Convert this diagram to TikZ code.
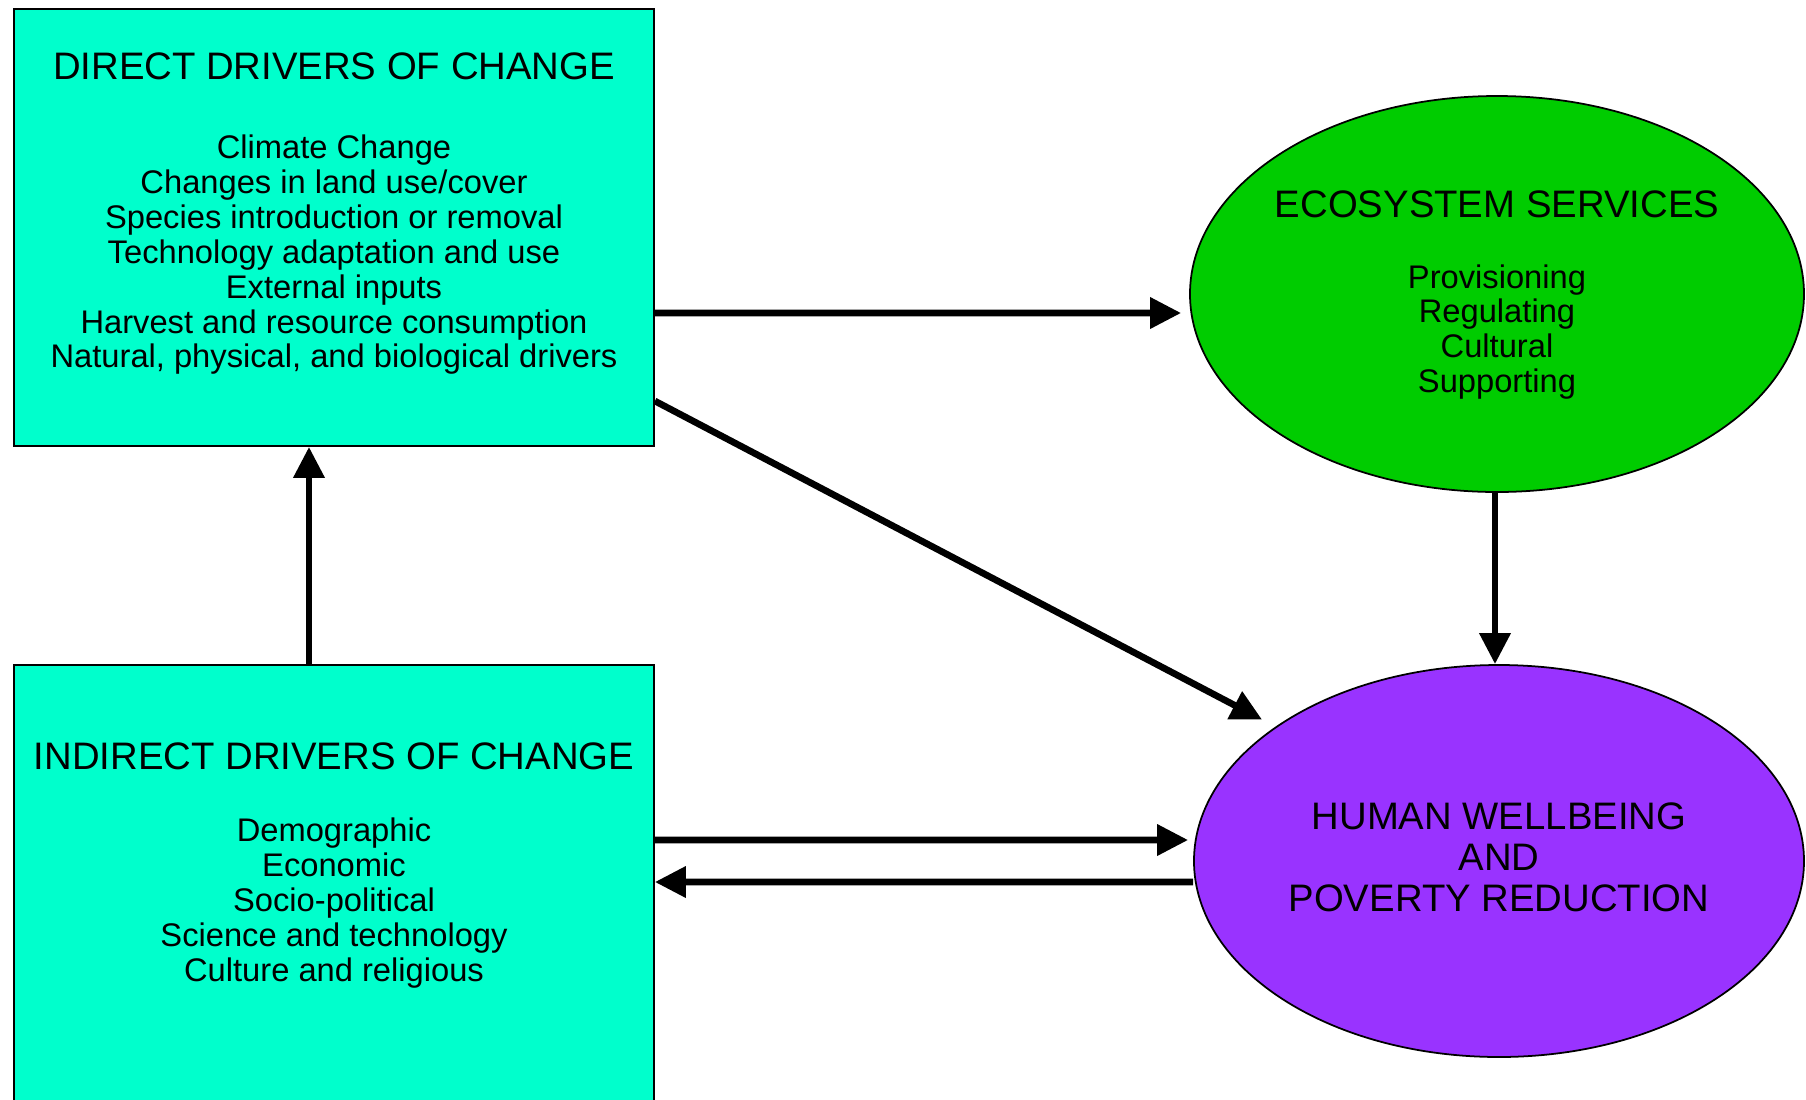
\documentclass[tikz,border=0pt]{standalone}
\usepackage{fontspec}
\setmainfont{Liberation Sans}
\usetikzlibrary{arrows.meta,positioning,calc,shapes.geometric}
\definecolor{driverfill}{RGB}{0,255,204}
\definecolor{ecofill}{RGB}{0,204,0}
\definecolor{humanfill}{RGB}{153,51,255}
\tikzset{
  >=Triangle,
  every node/.append style={font=\fontsize{9.3}{9.95}\selectfont},
}
\tikzset{
  heading/.style={font=\fontsize{10.9}{11.6}\selectfont, align=center, inner sep=0pt},
  items/.style={font=\fontsize{9.3}{9.95}\selectfont, align=center, inner sep=0pt}
}
\begin{document}
\begin{tikzpicture}[
  node distance=10mm,
  driverbox/.style={draw=black, line width=0.5pt, fill=driverfill, minimum width=64mm, minimum height=43.7mm, inner sep=0pt},
  ecocirc/.style={ellipse, draw=black, line width=0.5pt, fill=ecofill, minimum width=61.4mm, minimum height=39.6mm, inner sep=0pt},
  humancirc/.style={ellipse, draw=black, line width=0.5pt, fill=humanfill, minimum width=61mm, minimum height=39.2mm, inner sep=0pt, align=center, font=\fontsize{10.9}{11.6}\selectfont},
  flow/.style={-{Triangle[length=3.1mm,width=3mm]}, line width=1.9pt, draw=black}
]
\useasboundingbox (0,0) rectangle (18.06,-10.99);

% Left column: drivers of change
\node[driverbox] (direct) at (3.34,-2.275) {};
\node[driverbox, minimum height=44mm] (indirect) at (3.34,-8.85) {};

% Right column: services and wellbeing
\node[ecocirc] (eco) at (14.97,-2.94) {};
\node[humancirc] (human) at (14.99,-8.61) {};

% Texts in the boxes
\node[heading] (directhead) at ($(direct.north)+(0,-0.58)$) {DIRECT DRIVERS OF CHANGE};
\node[items] (directlist) at ($(direct.north)+(0,-2.465)$) {Climate Change\\Changes in land use/cover\\Species introduction or removal\\Technology adaptation and use\\External inputs\\Harvest and resource consumption\\Natural, physical, and biological drivers};

\node[heading] (indirecthead) at ($(indirect.north)+(0,-0.92)$) {INDIRECT DRIVERS OF CHANGE};
\node[items] (indirectlist) at ($(indirect.north)+(0,-2.39)$) {Demographic\\Economic\\Socio-political\\Science and technology\\Culture and religious};

\node[heading] (ecohead) at ($(eco.center)+(0,0.90)$) {ECOSYSTEM SERVICES};
\node[items] (ecolist) at ($(eco.center)+(0,-0.38)$) {Provisioning\\Regulating\\Cultural\\Supporting};

\node[heading] (humantext) at ($(human.center)+(0,0.035)$) {HUMAN WELLBEING\\AND\\POVERTY REDUCTION};

% Connectors
\draw[flow, shorten >=0.8mm] ([yshift=-8.55mm]direct.east) -- ([yshift=-1.9mm]eco.west);
\draw[flow, shorten >=1.5mm] ([yshift=-17.35mm]direct.east) -- (human.149);
\draw[flow] ([xshift=-2.5mm]indirect.north) -- ([xshift=-2.5mm]direct.south);
\draw[flow] ([xshift=-0.2mm]eco.south) -- ([xshift=-0.2mm]eco.south |- human.north);
\draw[flow, shorten >=0.5mm] ([yshift=4.5mm]indirect.east) -- ([yshift=2.1mm]human.west);
\draw[flow] ([yshift=-2.1mm]human.west) -- ([yshift=0.3mm]indirect.east);

\end{tikzpicture}
\end{document}
